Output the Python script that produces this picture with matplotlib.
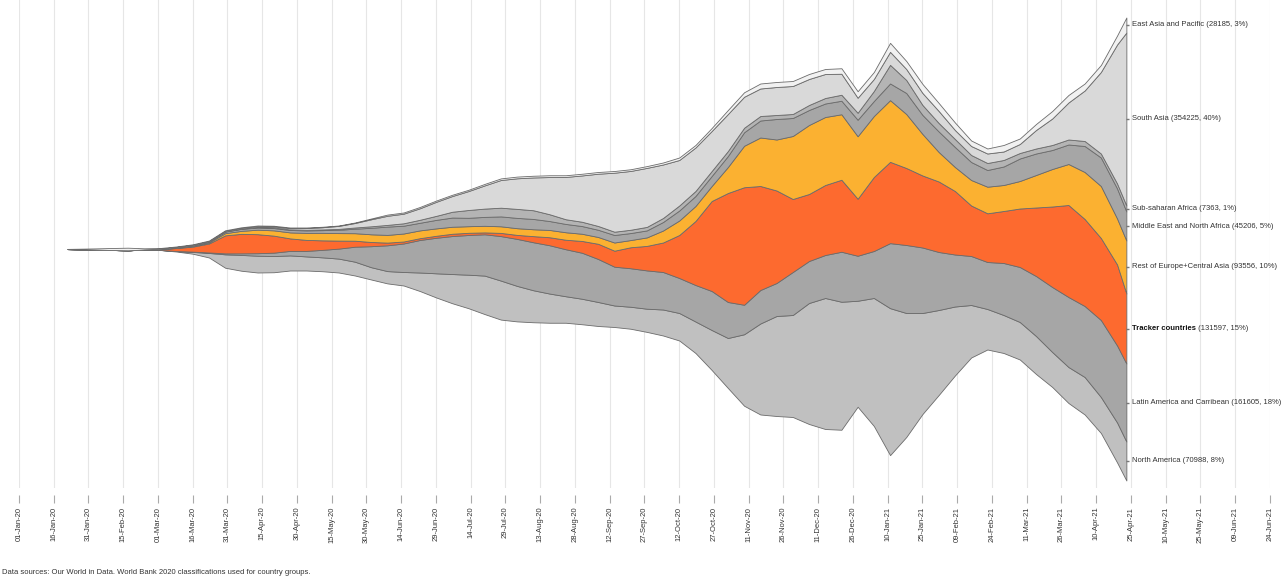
import matplotlib
matplotlib.use('Agg')
import matplotlib.pyplot as plt
import matplotlib.dates as mdates
import matplotlib.ticker as mticker
import numpy as np
import pandas as pd

plt.rcParams['font.family'] = ['Liberation Sans', 'DejaVu Sans']

# Daily new cases (7-day average, thousands), sampled weekly
dates = (pd.DatetimeIndex(['2020-01-22'])
         .append(pd.date_range('2020-01-27', periods=65, freq='7D'))
         .append(pd.DatetimeIndex(['2021-04-23'])))

east_asia = [0.4,
             1.2, 2.4, 4.0, 5.2, 2.4, 1.4, 1.0, 1.2, 1.4, 1.6,
             1.6, 1.8, 1.6, 1.4, 1.2, 1.0, 0.8, 1.0, 1.6, 2.4,
             2.4, 2.6, 2.6, 2.6, 2.6, 3.0, 3.2, 3.4, 3.4, 3.6,
             3.4, 3.4, 3.4, 3.4, 3.4, 3.6, 4.0, 5.0, 5.0, 6.0,
             8.0, 9.0, 10.0, 10.0, 10.0, 10.0, 10.0, 11.0, 13.0, 14.0,
             18.0, 16.0, 18.0, 16.0, 15.0, 11.0, 10.0, 13.0, 11.0, 12.0,
             15.0, 15.0, 14.0, 14.0, 18.0,
             30.0]
south_asia = [0,
              0, 0, 0, 0, 0, 0.04, 0.1, 0.16, 0.3, 0.6,
              1.0, 1.4, 2.0, 2.6, 3.4, 4.4, 6.0, 9.0, 14.0, 18.2,
              19.2, 23.0, 28.0, 31.4, 37.8, 46.4, 55.4, 61.2, 65.6, 74.4,
              84.6, 92.6, 104.6, 118.0, 117.6, 118.0, 107.0, 91.0, 87.0, 80.0,
              74.0, 62.0, 55.0, 56.0, 56.0, 52.0, 48.0, 42.0, 30.0, 24.0,
              26.0, 22.0, 24.0, 24.0, 18.0, 18.0, 19.0, 17.0, 18.0, 37.0,
              53.0, 74.0, 101.0, 163.0, 278.0,
              346.0]
sub_saharan = [0,
               0, 0, 0, 0, 0, 0, 0.04, 0.1, 0.2, 0.6,
               0.6, 0.8, 1.0, 1.0, 1.2, 1.4, 1.8, 2.4, 3.0, 3.4,
               4.8, 6.0, 8.0, 11.6, 15.6, 16.6, 17.4, 18.0, 17.4, 13.6,
               9.4, 8.6, 7.6, 6.6, 6.6, 7.0, 8.0, 10.0, 10.0, 10.0,
               10.0, 9.0, 9.0, 8.0, 8.0, 10.0, 11.0, 12.0, 14.0, 20.0,
               37.2, 26.0, 20.0, 17.0, 16.0, 14.0, 14.0, 13.0, 11.0, 10.0,
               10.0, 10.0, 10.0, 8.0, 10.0,
               12.0]
mena = [0,
        0, 0, 0, 0, 0.2, 0.8, 1.6, 2.0, 2.0, 3.0,
        4.0, 4.4, 4.6, 4.8, 5.0, 5.4, 6.6, 9.0, 13.0, 16.6,
        15.6, 15.2, 17.0, 18.4, 16.8, 17.8, 19.8, 20.6, 20.6, 17.8,
        16.6, 15.4, 14.4, 15.0, 14.0, 14.0, 17.0, 20.0, 20.0, 20.0,
        22.0, 27.0, 34.0, 41.0, 36.0, 30.0, 27.0, 27.0, 33.0, 30.0,
        33.4, 42.0, 38.0, 41.0, 40.0, 36.0, 33.4, 37.0, 45.0, 43.0,
        38.0, 39.0, 52.0, 57.0, 60.0,
        58.0]
europe_ca = [0,
             0, 0, 0, 0, 0, 0.1, 0.4, 1.2, 2.0, 4.4,
             6.0, 9.0, 10.6, 12.0, 14.0, 15.0, 15.0, 15.0, 15.4, 15.4,
             16.0, 15.6, 14.8, 14.0, 13.2, 13.2, 13.2, 13.4, 13.8, 14.6,
             15.0, 14.4, 13.6, 16.4, 14.4, 17.0, 24.0, 29.0, 30.0, 30.0,
             52.0, 83.0, 97.0, 102.0, 126.0, 138.0, 136.0, 131.0, 125.0, 122.0,
             123.4, 108.0, 83.0, 59.0, 48.0, 51.0, 53.2, 52.0, 55.0, 65.0,
             75.0, 82.0, 94.0, 104.0, 92.0,
             106.0]
tracker = [0,
           0, 0, 0, 0, 0.2, 1.6, 6.0, 10.0, 18.0, 36.0,
           39.0, 38.0, 34.0, 25.0, 22.0, 19.0, 16.0, 12.0, 8.4, 5.4,
           4.0, 3.6, 4.0, 4.6, 4.4, 3.8, 6.4, 8.0, 12.2, 16.0,
           19.0, 23.6, 30.4, 32.0, 42.0, 49.0, 59.0, 86.0, 128.0, 180.0,
           218.0, 235.0, 208.0, 185.0, 146.0, 134.0, 140.0, 144.0, 114.0, 148.0,
           162.6, 154.0, 144.0, 141.0, 127.0, 101.0, 97.4, 104.0, 117.0, 137.0,
           161.0, 184.0, 174.0, 164.0, 162.0,
           140.0]
latam = [0,
         0, 0, 0, 0, 0, 0, 0.1, 0.6, 1.0, 2.0,
         3.2, 5.0, 6.8, 9.0, 11.0, 15.0, 20.0, 30.0, 42.0, 51.6,
         57.0, 65.0, 71.0, 76.0, 79.4, 82.6, 89.0, 94.0, 96.0, 96.6,
         94.0, 92.0, 86.0, 77.6, 77.0, 76.6, 75.0, 70.0, 73.0, 78.0,
         72.0, 59.0, 67.0, 66.0, 86.0, 84.0, 86.0, 100.0, 90.0, 94.0,
         130.0, 136.0, 131.0, 116.0, 104.0, 98.0, 94.0, 104.0, 110.0, 120.0,
         130.0, 140.0, 142.0, 154.0, 154.0,
         156.0]
north_america = [0,
                 0, 0, 0, 0, 0, 0.1, 1.0, 3.6, 9.0, 26.8,
                 31.6, 33.6, 32.4, 30.2, 28.2, 27.8, 27.8, 27.6, 24.6, 24.6,
                 27.0, 37.0, 48.2, 58.4, 67.0, 77.0, 78.0, 71.0, 64.0, 58.4,
                 53.0, 51.0, 48.0, 43.0, 44.0, 46.4, 52.0, 55.0, 63.0, 80.0,
                 100.0, 143.0, 182.0, 200.0, 204.0, 242.0, 262.0, 256.0, 212.0, 256.0,
                 294.0, 248.0, 202.0, 170.0, 138.0, 105.0, 81.0, 76.0, 75.0, 76.0,
                 70.0, 72.0, 75.0, 72.0, 80.0,
                 78.0]

# top to bottom
names = ['East Asia and Pacific', 'South Asia', 'Sub-saharan Africa',
         'Middle East and North Africa', 'Rest of Europe+Central Asia',
         'Tracker countries', 'Latin America and Carribean', 'North America']
last_counts = [28185, 354225, 7363, 45206, 93556, 131597, 161605, 70988]
last_shares = [3, 40, 1, 5, 10, 15, 18, 8]
series = [east_asia, south_asia, sub_saharan, mena, europe_ca, tracker, latam, north_america]
colors = ['#f1f1f1', '#d9d9d9', '#b4b4b4', '#a6a6a6', '#fbb131', '#fd6a2f', '#a6a6a6', '#c0c0c0']

W, H = 1287, 582
fig = plt.figure(figsize=(W / 100, H / 100), dpi=100)
ax = fig.add_axes([19 / W, 1 - 488 / H, (1270 - 19) / W, 488 / H])

# stackplot stacks from the bottom, so reverse the order
ax.stackplot(dates, *[np.array(s) for s in series[::-1]], baseline='sym',
             colors=colors[::-1], edgecolor='#6b6b6b', linewidth=0.6, zorder=2)

ax.set_xlim(pd.Timestamp('2020-01-01'), pd.Timestamp('2021-06-24'))
ax.set_ylim(-478, 498)

# labels at the end of each band
vals = [s[-1] for s in series]
top = sum(vals) / 2
last = dates[-1]
for name, v, n, p in zip(names, vals, last_counts, last_shares):
    yc = top - v / 2
    top -= v
    ax.plot([last], [yc], marker=1, markersize=2.5, color='#777777', zorder=3)
    tx = last + pd.Timedelta(days=2.5)
    if name == 'Tracker countries':
        t1 = ax.text(tx, yc, name, fontsize=5.5, fontweight='bold', color='#111111',
                     va='center', ha='left')
        ax.annotate(' (%d, %d%%)' % (n, p), xy=(1, 0), xycoords=t1,
                    fontsize=5.5, color='#333333', va='bottom', ha='left')
    else:
        ax.text(tx, yc, '%s (%d, %d%%)' % (name, n, p), fontsize=5.5,
                color='#333333', va='center', ha='left')

# x axis: a tick every 15 days
tick_dates = pd.date_range('2020-01-01', '2021-06-24', freq='15D')
ax.xaxis.set_major_locator(mticker.FixedLocator(mdates.date2num(tick_dates)))
ax.xaxis.set_major_formatter(mdates.DateFormatter('%d-%b-%y'))
ax.tick_params(axis='x', labelrotation=90, labelsize=5.5, labelcolor='#333333',
               length=6, width=0.8, color='#aaaaaa', pad=2.5)
ax.set_yticks([])
ax.grid(axis='x', color='#e6e6e6', linewidth=0.8, zorder=0)
ax.set_axisbelow(True)
for s in ax.spines.values():
    s.set_visible(False)
ax.spines['bottom'].set_position(('outward', 5))

fig.text(2 / W, 1 - 573 / H,
         'Data sources: Our World in Data. World Bank 2020 classifications used for country groups.',
         fontsize=5.5, color='#333333', va='center', ha='left')

fig.savefig('out.png', dpi=100)
